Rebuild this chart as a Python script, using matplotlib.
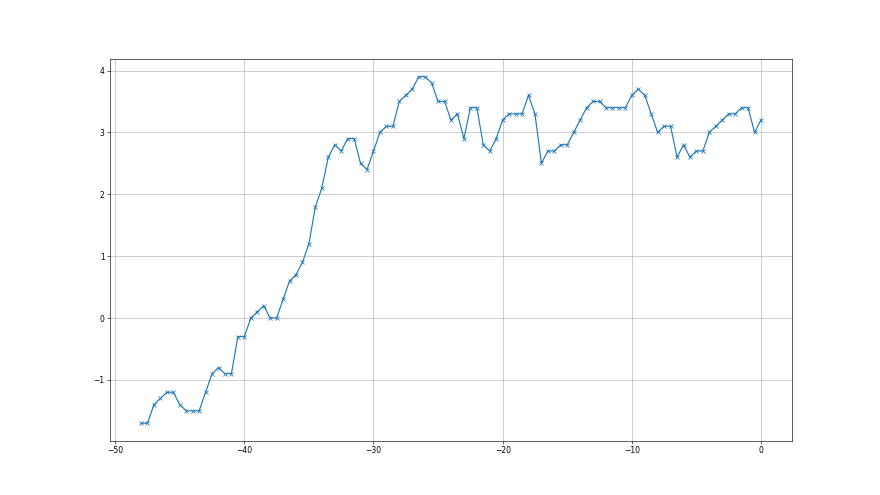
import numpy as np
import matplotlib
matplotlib.use("Agg")
import matplotlib.pyplot as plt

# time offsets, half-unit steps from -48 to 0
x = np.arange(-48, 0.01, 0.5)

y = [-1.7, -1.7, -1.4, -1.3, -1.2, -1.2, -1.4, -1.5, -1.5, -1.5,
     -1.2, -0.9, -0.8, -0.9, -0.9, -0.3, -0.3, 0.0, 0.1, 0.2,
     0.0, 0.0, 0.3, 0.6, 0.7, 0.9, 1.2, 1.8, 2.1, 2.6,
     2.8, 2.7, 2.9, 2.9, 2.5, 2.4, 2.7, 3.0, 3.1, 3.1,
     3.5, 3.6, 3.7, 3.9, 3.9, 3.8, 3.5, 3.5, 3.2, 3.3,
     2.9, 3.4, 3.4, 2.8, 2.7, 2.9, 3.2, 3.3, 3.3, 3.3,
     3.6, 3.3, 2.5, 2.7, 2.7, 2.8, 2.8, 3.0, 3.2, 3.4,
     3.5, 3.5, 3.4, 3.4, 3.4, 3.4, 3.6, 3.7, 3.6, 3.3,
     3.0, 3.1, 3.1, 2.6, 2.8, 2.6, 2.7, 2.7, 3.0, 3.1,
     3.2, 3.3, 3.3, 3.4, 3.4, 3.0, 3.2]

fig = plt.figure(figsize=(16, 9), dpi=55)
ax = fig.add_subplot(111)
ax.plot(x, y, marker="x", color="tab:blue", markersize=5)
ax.grid(True)

plt.savefig("out.png", dpi=55)
